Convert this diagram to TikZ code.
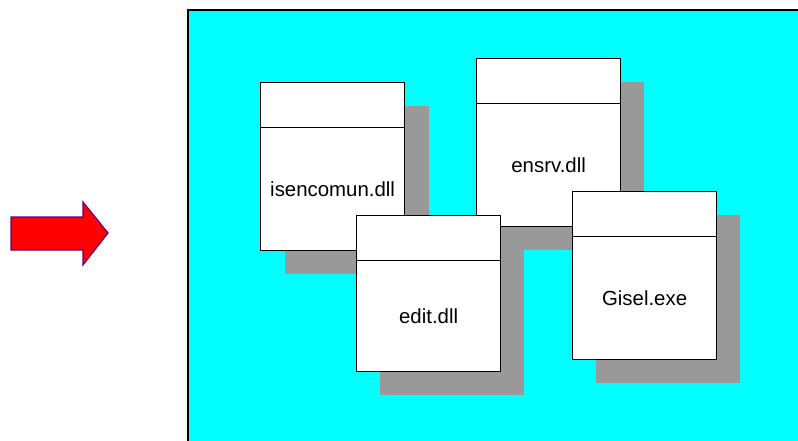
\documentclass[tikz,border=0pt]{standalone}
\usepackage{fontspec}
\setmainfont{Liberation Sans}
\definecolor{cyanbg}{RGB}{0,255,255}
\definecolor{shadowgray}{RGB}{153,153,153}
\definecolor{arrowborder}{RGB}{102,0,128}
\begin{document}
\begin{tikzpicture}[x=1pt,y=-1pt,
  shadowbox/.style={fill=shadowgray, draw=none, minimum width=144pt, minimum height=168pt, inner sep=0pt, anchor=north west},
  headbox/.style={fill=white, draw=black, line width=1.2pt, minimum width=144pt, minimum height=45pt, inner sep=0pt, anchor=north west},
  bodybox/.style={fill=white, draw=black, line width=1.2pt, minimum width=144pt, minimum height=123pt, inner sep=0pt, anchor=north west, font=\fontsize{20.4}{23}\selectfont}
]
\useasboundingbox (0,0) rectangle (798,441);
% background panel
\fill[cyanbg] (188,10) rectangle (800,445);
\draw[black, line width=1.5pt] (188,445) -- (188,10) -- (800,10);
% arrow
\draw[fill=red, draw=arrowborder, line width=1.2pt]
  (11,217) -- (83,217) -- (83,202) -- (108,233) -- (83,265) -- (83,250) -- (11,250) -- cycle;
% isencomun.dll
\node[shadowbox] (s1) at (285,106) {};
\node[headbox] (h1) at (260,82) {};
\node[bodybox] (b1) at (260,127) {isencomun.dll};
% ensrv.dll
\node[shadowbox] (s2) at (500,82) {};
\node[headbox] (h2) at (476,58) {};
\node[bodybox] (b2) at (476,103) {ensrv.dll};
% edit.dll
\node[shadowbox, minimum height=156pt] (s3) at (380,239) {};
\node[headbox] (h3) at (356,215) {};
\node[bodybox, minimum height=111pt] (b3) at (356,260) {edit.dll};
% Gisel.exe
\node[shadowbox] (s4) at (596,215) {};
\node[headbox] (h4) at (572,191) {};
\node[bodybox] (b4) at (572,236) {Gisel.exe};
\end{tikzpicture}
\end{document}
